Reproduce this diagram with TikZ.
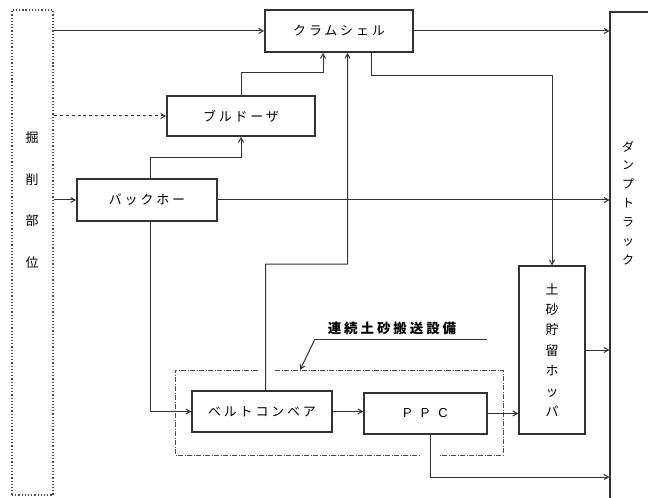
\documentclass[tikz,border=0pt]{standalone}
\usepackage{fontspec}
\newfontfamily\jp[LetterSpace=22]{Noto Sans CJK JP}
\usetikzlibrary{arrows.meta}
\begin{document}
\begin{tikzpicture}[x=1bp,y=-1bp,
  ln/.style={draw=black!80, line width=1bp},
  arr/.style={ln, -{Straight Barb[length=4.5bp,width=5bp]}},
  mainbox/.style={draw=black!80, line width=1.8bp, inner sep=0pt, font={\jp\fontsize{13}{16}\selectfont}, text=black},
  subbox/.style={draw=black!80, line width=1.3bp, inner sep=0pt, font={\jp\fontsize{13}{16}\selectfont}, text=black},
  vtext/.style={align=center, inner sep=0pt, text=black}
]
\useasboundingbox (0,0) rectangle (648,498);
\clip (0,0) rectangle (648,498);
\fill[white] (0,0) rectangle (648,498);

% excavation area (dotted)
\node[draw=black!70, dotted, line width=1.2bp, minimum width=41bp, minimum height=485bp, inner sep=0pt] (src) at (32.5,252.5) {};
\node[vtext, font={\jp\fontsize{13}{42}\selectfont}] (srclabel) at (32,200) {掘\\削\\部\\位};

% dump truck (right edge outside frame)
\node[draw=black!80, line width=1.1bp, minimum width=50bp, minimum height=498bp, inner sep=0pt] (dump) at (635,261) {};
\node[vtext, font={\jp\fontsize{12}{19}\selectfont}] (dumplabel) at (628,203) {ダ\\ン\\プ\\ト\\ラ\\ッ\\ク};

% machines
\node[mainbox, minimum width=148bp, minimum height=42bp] (clam) at (339,31) {クラムシェル};
\node[mainbox, minimum width=148bp, minimum height=40bp] (bull) at (241,116) {ブルドーザ};
\node[mainbox, minimum width=140bp, minimum height=42bp] (back) at (147,200) {バックホー};
\node[subbox, minimum width=140bp, minimum height=41bp] (belt) at (262,411.5) {ベルトコンベア};
\node[subbox, minimum width=123bp, minimum height=41bp, font={\fontspec{Liberation Sans}\fontsize{13}{16}\selectfont}] (ppc) at (425.5,413.5) {P\hspace{9bp}P\hspace{9bp}C};
\node[subbox, minimum width=66bp, minimum height=168bp, align=center, font={\jp\fontsize{13}{20.5}\selectfont}] (hop) at (552,350) {土\\砂\\貯\\留\\ホ\\ッ\\パ};

% continuous transport group (dashed, with gaps)
\draw[draw=black!70, line width=0.8bp, dash pattern=on 5bp off 1.5bp on 1bp off 1.5bp]
  (258,370) -- (175,370) -- (175,455) -- (420,455)
  (275,370) -- (503,370) -- (503,455) -- (440,455);
\node[font={\jp\fontsize{13.5}{16}\selectfont\bfseries}, text=black, inner sep=0pt] (grp) at (392,328) {連続土砂搬送設備};
\coordinate (ulL) at (315,339);
\coordinate (ulR) at (487,339);
\coordinate (grpedge) at (300,370);
\draw[ln] (ulL) -- (ulR);
\draw[arr] (ulL) -- (grpedge);

% connectors
\draw[arr] (src.east |- clam.west) -- (clam.west);
\draw[arr, dashed] (src.east |- bull.west) -- (bull.west);
\draw[arr] (src.east |- back.west) -- (back.west);
\draw[arr] (clam.east) -- (clam.east -| dump.west);
\draw[arr] (back.east) -- (back.east -| dump.west);
\draw[arr] ([xshift=32bp]clam.south) -- ++(0,23) -| (hop.north);
\draw[arr] ([xshift=3bp]back.north) -- ++(0,-21) -| (bull.south);
\draw[arr] (bull.north) -- ++(0,-23) -| ([xshift=-16bp]clam.south);
\draw[arr] ([xshift=3.5bp]belt.north) -- (265.5,264) -| ([xshift=8.5bp]clam.south);
\draw[arr] ([xshift=3bp]back.south) |- (belt.west);
\draw[arr] (belt.east) -- (belt.east -| ppc.west);
\draw[arr] (ppc.east) -- (ppc.east -| hop.west);
\draw[arr] (hop.east) -- (hop.east -| dump.west);
\draw[arr] ([xshift=4.5bp]ppc.south) |- ([yshift=-216bp]dump.west);
\end{tikzpicture}
\end{document}
